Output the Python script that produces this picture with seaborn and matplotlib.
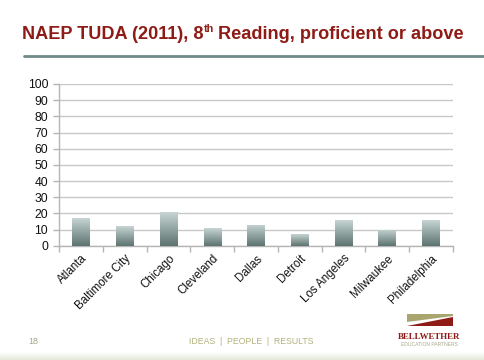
import matplotlib
matplotlib.use("Agg")
import matplotlib.pyplot as plt
import seaborn as sns
import numpy as np
import pandas as pd
from matplotlib.patches import Polygon
from matplotlib.colors import LinearSegmentedColormap

cities = ["Atlanta", "Baltimore City", "Chicago", "Cleveland", "Dallas",
          "Detroit", "Los Angeles", "Milwaukee", "Philadelphia"]
values = [17, 12, 21, 11, 13, 7, 16, 10, 16]
yticks = [0, 10, 20, 30, 40, 50, 60, 70, 80, 90, 100]

sns.set_theme(style="white")
plt.rcParams['font.family'] = ['Liberation Sans', 'DejaVu Sans']

W, H = 485, 360
fig = plt.figure(figsize=(W / 100, H / 100), dpi=100)
ax = fig.add_axes([59.3 / W, 1 - 245.7 / H, (452.7 - 59.3) / W, (245.7 - 84) / H])

df = pd.DataFrame({"city": cities, "value": values})
sns.barplot(data=df, x="city", y="value", ax=ax, width=0.4, color="#7a918e",
            saturation=1, zorder=3)

ax.set_ylim(0, 100)
ax.set_xlim(-0.5, len(cities) - 0.5)
ax.set_yticks(yticks)
ax.set_yticklabels([str(v) for v in yticks], fontsize=8.7, color="#111111")
ax.set_xlabel("")
ax.set_ylabel("")
ax.yaxis.grid(True, color="#c8c8c8", lw=1.0, zorder=0)
ax.xaxis.grid(False)
for s in ["top", "right"]:
    ax.spines[s].set_visible(False)
for s in ["left", "bottom"]:
    ax.spines[s].set_color("#b5b5b5")
    ax.spines[s].set_linewidth(1.0)

ax.set_xticks(range(len(cities)))
ax.set_xticklabels(cities, rotation=45, ha="right", rotation_mode="anchor",
                   fontsize=8.3, color="#111111")
ax.tick_params(axis="x", length=0, pad=5)
ax.set_xticks(np.arange(-0.5, len(cities), 1.0), minor=True)
ax.tick_params(axis="x", which="minor", length=4, color="#b5b5b5", width=1, bottom=True)
ax.tick_params(axis="y", length=4, color="#b5b5b5", width=1, left=True, pad=4)

# gradient fill for bars
grad = np.linspace(0, 1, 256).reshape(-1, 1)
cmap = LinearSegmentedColormap.from_list("g", ["#5c7370", "#c7d5d4"])
for p in ax.patches:
    x0, y0 = p.get_x(), p.get_y()
    w, h = p.get_width(), p.get_height()
    im = ax.imshow(grad, cmap=cmap, aspect="auto", origin="lower",
                   extent=[x0, x0 + w, y0, y0 + h], zorder=3)
    im.set_clip_path(p)
    p.set_facecolor("none")
    p.set_edgecolor("none")
ax.set_xlim(-0.5, len(cities) - 0.5)
ax.set_ylim(0, 100)

# title with superscript
red = "#8e1b16"
fig.canvas.draw()
r = fig.canvas.get_renderer()
fs = 13.1
t1 = fig.text(22 / W, 1 - 39 / H, "NAEP TUDA (2011), 8", fontsize=fs,
              fontweight="bold", color=red, va="baseline")
bb = t1.get_window_extent(r)
t2 = fig.text((bb.x1 + 0.5) / W, 1 - 32 / H, "th", fontsize=fs * 0.6,
              fontweight="bold", color=red, va="baseline")
bb2 = t2.get_window_extent(r)
fig.text((bb2.x1 + 4) / W, 1 - 39 / H, "Reading, proficient or above", fontsize=fs,
         fontweight="bold", color=red, va="baseline")

# rule under title
fig.add_artist(plt.Line2D([24 / W, 1.0], [1 - 56 / H, 1 - 56 / H], color="#6f8a88", lw=2))

# footer
fig.text(33 / W, 1 - 342 / H, "18", fontsize=6.5, color="#a7a78a", ha="center", va="center")
fig.text(251 / W, 1 - 342 / H, "IDEAS  |  PEOPLE  |  RESULTS", fontsize=6.3, color="#b3b27c",
         ha="center", va="center")

# logo
def P(x, y):
    return (x / W, 1 - y / H)
fig.add_artist(Polygon([P(407, 314), P(453, 314), P(453, 316), P(407, 322)],
                       closed=True, facecolor="#a8a66e", edgecolor="none", transform=fig.transFigure))
fig.add_artist(Polygon([P(407, 326), P(453, 326), P(453, 317)],
                       closed=True, facecolor="#8e1b16", edgecolor="none", transform=fig.transFigure))
fig.text(429 / W, 1 - 337 / H, "BELLWETHER", fontsize=6.4, fontweight="bold", color=red,
         ha="center", va="center", family=["Liberation Serif", "DejaVu Serif"])
fig.text(429 / W, 1 - 344 / H, "EDUCATION PARTNERS", fontsize=3.6, color="#a9a98c",
         ha="center", va="center")

# bottom strip
strip = np.linspace(0, 1, 50).reshape(-1, 1)
sax = fig.add_axes([0, 0, 1, 8 / H])
sax.imshow(strip, cmap=LinearSegmentedColormap.from_list("s", ["#ffffff", "#e3e8d8"]),
           aspect="auto", origin="upper")
sax.axis("off")

fig.savefig("out.png", dpi=100)
